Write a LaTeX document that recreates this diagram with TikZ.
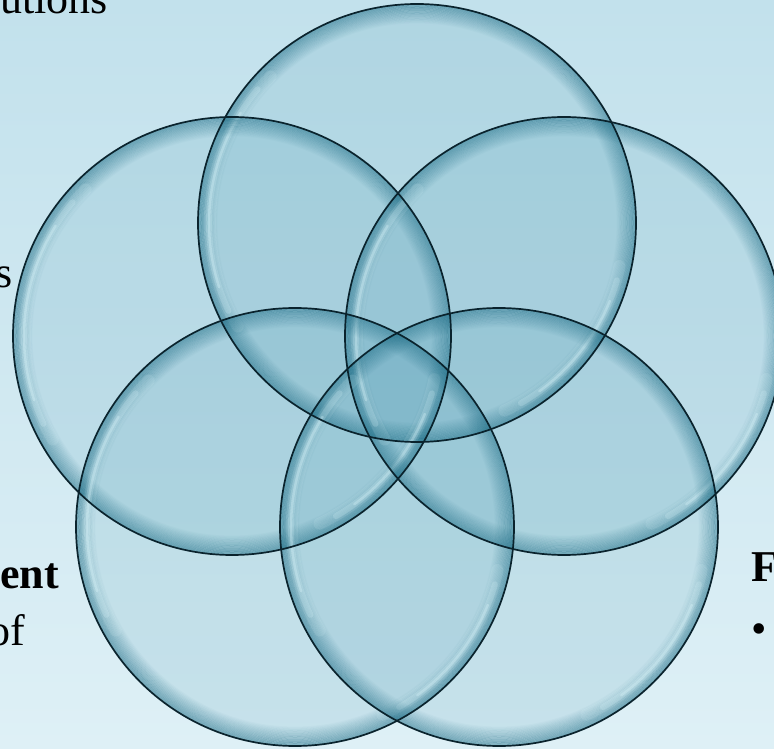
\documentclass[tikz,border=0pt]{standalone}
\usepackage{fontspec}
\setmainfont{Liberation Serif}
\definecolor{bgtop}{RGB}{194,225,236}
\definecolor{bgbot}{RGB}{222,240,246}
\definecolor{bubfill}{RGB}{70,150,175}
\definecolor{rim}{RGB}{25,105,130}
\definecolor{edge}{RGB}{10,35,45}
\definecolor{shine}{RGB}{225,250,255}
\tikzset{
  bubble/.style={circle, minimum size=438pt, inner sep=0pt, outer sep=0pt},
  lbl/.style={font=\fontsize{44}{53}\selectfont, inner sep=0pt, text=black},
  lblb/.style={lbl, font=\fontsize{44}{53}\selectfont\bfseries},
  outline/.style={draw=edge, line width=1.7pt},
  glow/.style={shine, line cap=round},
}
\begin{document}
\begin{tikzpicture}[x=1pt,y=1pt]
\useasboundingbox (0,0) rectangle (774,748);
\shade[top color=bgtop, bottom color=bgbot] (0,0) rectangle (774,748);
% texts
\node[lbl, anchor=base east] (t1) at (108,734) {utions};
\node[lbl, anchor=base east] (t2) at (13,460) {s};
\node[lblb, anchor=base east] (t3) at (59,160) {ent};
\node[lbl, anchor=base east] (t4) at (25,103) {of};
\node[lblb, anchor=base west] (t5) at (751,167) {F};
\node[lbl, anchor=base west] (t6) at (751,105) {•};
\begin{scope}
\clip (0,0) rectangle (774,748);
\foreach \n/\x/\y in {top/417/525, left/232/412, right/564/412, bl/295/221, br/499/221} {
  \node[bubble, fill=bubfill, fill opacity=0.15] (\n) at (\x,\y) {};
}
\foreach \n in {top,left,right,bl,br} {
  \foreach \k in {1,...,16} {
    \pgfmathsetmacro\op{0.028*(17-\k)}
    \draw[rim, line width=1.25pt, opacity=\op] (\n.center) circle[radius=219.5-\k*1.2];
  }
  \draw[glow, line width=12pt, opacity=0.12] ([shift={(135:207)}]\n.center) arc[start angle=135, end angle=210, radius=207];
  \draw[glow, line width=6pt, opacity=0.2] ([shift={(140:208)}]\n.center) arc[start angle=140, end angle=205, radius=208];
  \draw[glow, line width=2.5pt, opacity=0.3] ([shift={(148:208)}]\n.center) arc[start angle=148, end angle=198, radius=208];
  \draw[glow, line width=12pt, opacity=0.12] ([shift={(-12:207)}]\n.center) arc[start angle=-12, end angle=-65, radius=207];
  \draw[glow, line width=6pt, opacity=0.2] ([shift={(-16:208)}]\n.center) arc[start angle=-16, end angle=-60, radius=208];
  \draw[glow, line width=2.5pt, opacity=0.3] ([shift={(-22:208)}]\n.center) arc[start angle=-22, end angle=-54, radius=208];
}
\foreach \n in {top,left,right,bl,br} {
  \draw[outline] (\n.center) circle[radius=219];
}
\end{scope}
\end{tikzpicture}
\end{document}
